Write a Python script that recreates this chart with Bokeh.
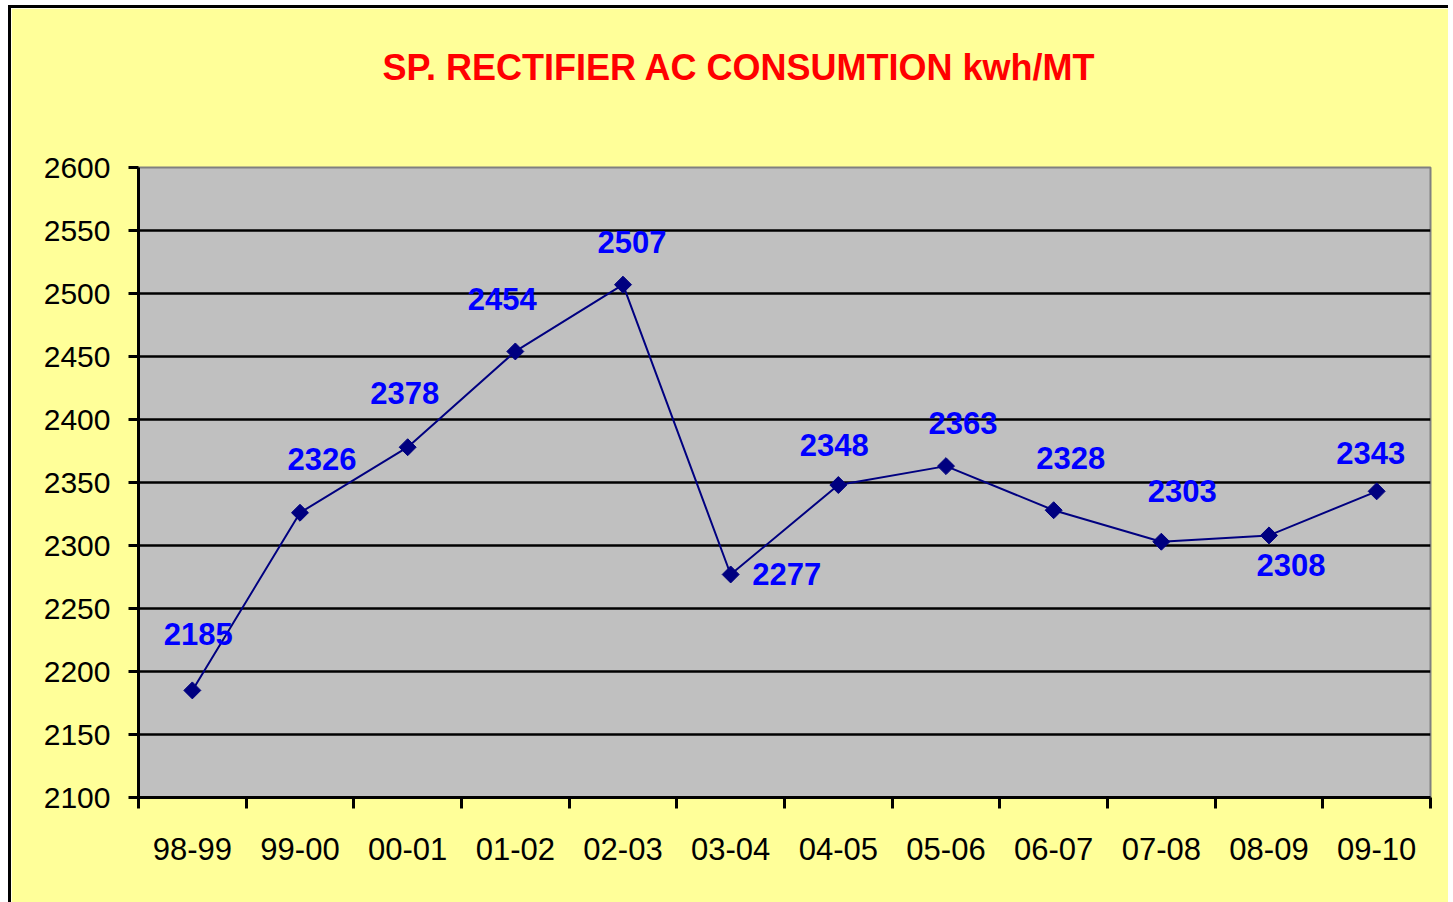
from bokeh.plotting import figure
from bokeh.models import FixedTicker, ColumnDataSource, Range1d, LinearAxis
from bokeh.core.properties import value
from bokeh.embed import file_html
from bokeh.resources import INLINE

categories = ["98-99", "99-00", "00-01", "01-02", "02-03", "03-04",
              "04-05", "05-06", "06-07", "07-08", "08-09", "09-10"]
values = [2185, 2326, 2378, 2454, 2507, 2277, 2348, 2363, 2328, 2303, 2308, 2343]
y_ticks = list(range(2100, 2601, 50))
title_text = "SP. RECTIFIER AC CONSUMTION  kwh/MT"

# label placement (screen px offsets, style only; negative = up)
label_dx = [6, 22, -3, -13, 9, 56, -4, 17, 17, 21, 22, -6]
label_dy = [-56, -54, -54, -52, -43, 0, -40, -43, -52, -51, 30, -38]

xs = [i + 0.5 for i in range(len(categories))]
src = ColumnDataSource(dict(x=xs, y=values, txt=[str(v) for v in values],
                            dx=label_dx, dy=label_dy))

FONT = "Liberation Sans"

p = figure(frame_width=1292, frame_height=630,
           min_border_left=127, min_border_top=159, min_border_right=18, min_border_bottom=105,
           x_range=Range1d(0, len(categories)), y_range=Range1d(y_ticks[0], y_ticks[-1]),
           output_backend="svg", toolbar_location=None)
p.styles = {"margin-left": "8px", "margin-top": "5px",
            "border-top": "3px solid black", "border-left": "3px solid black"}

p.background_fill_color = "#C0C0C0"
p.border_fill_color = "#FFFF99"
p.outline_line_color = "#808080"
p.outline_line_width = 2

# invisible spacer between plot area and title
mid = len(categories) / 2
spacer = LinearAxis(ticker=FixedTicker(ticks=[mid]), major_label_overrides={mid: ""},
                    axis_line_color=None,
                    major_tick_out=75, major_tick_in=0, major_tick_line_color=None,
                    minor_tick_out=0, minor_tick_in=0, minor_tick_line_color=None,
                    major_label_standoff=0, major_label_text_font_size="1px")
p.add_layout(spacer, "above")

# title
p.title.text = title_text
p.title.align = "left"
p.title.offset = 244
p.title.text_font = FONT
p.title.text_font_style = "bold"
p.title.text_font_size = "36px"
p.title.text_color = "#FF0000"
p.title.standoff = 10

# y axis
yaxis = p.yaxis[0]
yaxis.ticker = FixedTicker(ticks=y_ticks)
yaxis.axis_line_color = "black"
yaxis.axis_line_width = 3
yaxis.major_tick_out = 10
yaxis.major_tick_in = 0
yaxis.major_tick_line_width = 3
yaxis.major_tick_line_color = "black"
yaxis.minor_tick_line_color = None
yaxis.major_label_text_font = FONT
yaxis.major_label_text_font_size = "30px"
yaxis.major_label_text_color = "black"
yaxis.major_label_standoff = 18

# x axis
xaxis = p.below[0]
xaxis.ticker = FixedTicker(ticks=xs, minor_ticks=list(range(len(categories) + 1)))
xaxis.major_label_overrides = {x: c for x, c in zip(xs, categories)}
xaxis.axis_line_color = "black"
xaxis.axis_line_width = 3
xaxis.major_tick_out = 0
xaxis.major_tick_in = 0
xaxis.major_tick_line_color = None
xaxis.minor_tick_out = 11
xaxis.minor_tick_in = 0
xaxis.minor_tick_line_color = "black"
xaxis.minor_tick_line_width = 3
xaxis.major_label_text_font = FONT
xaxis.major_label_text_font_size = "31px"
xaxis.major_label_text_color = "black"
xaxis.major_label_standoff = 29

# grid
p.xgrid.visible = False
p.ygrid.ticker = FixedTicker(ticks=y_ticks[1:-1])
p.ygrid.grid_line_color = "black"
p.ygrid.grid_line_width = 2.5

# series
p.line("x", "y", source=src, line_color="#000080", line_width=2)
p.scatter("x", "y", source=src, marker="square", angle=0.785398, size=12,
          fill_color="#000080", line_color="#000080")
p.text("x", "y", text="txt", source=src, x_offset="dx", y_offset="dy",
       text_font=value(FONT), text_font_style="bold", text_font_size="31px",
       text_color="#0000FF", text_align="center", text_baseline="middle")

open("out.html", "w").write(file_html(p, INLINE))
